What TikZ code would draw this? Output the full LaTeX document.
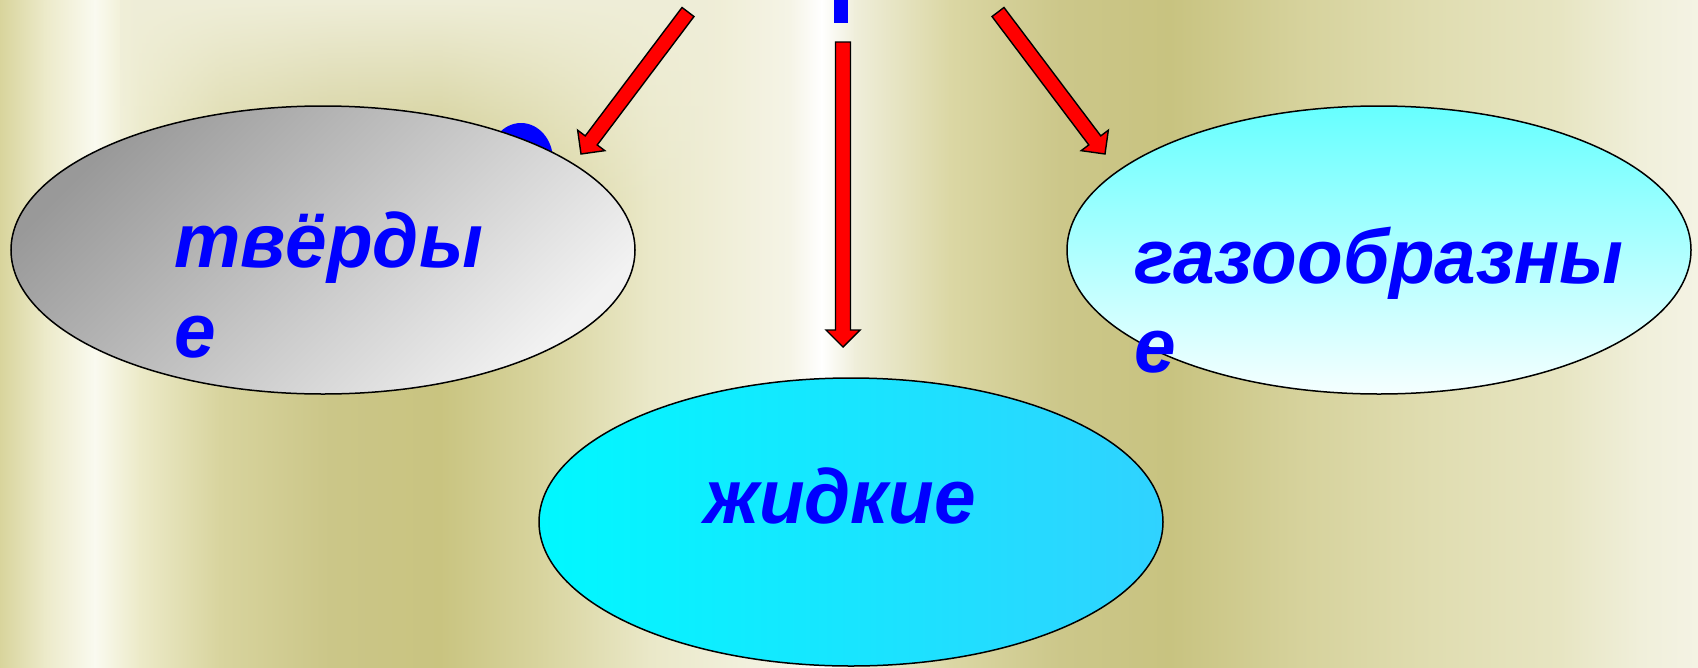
\documentclass[tikz,border=0pt]{standalone}
\usepackage{fontspec}
\newfontfamily\labi{Liberation Sans}[FakeStretch=0.97]
\usetikzlibrary{shapes.geometric,calc,fadings}
\definecolor{txtblue}{HTML}{0000FF}
\definecolor{eAdark}{HTML}{999999}
\definecolor{eAlight}{HTML}{F2F2F2}
\definecolor{eBtop}{HTML}{66FFFF}
\definecolor{eBbot}{HTML}{F6FFFF}
\definecolor{eCleft}{HTML}{00F8FF}
\definecolor{eCright}{HTML}{30D2FF}
\definecolor{creamtop}{HTML}{EFEED8}
\definecolor{b0}{HTML}{D8D49C}
\definecolor{b1}{HTML}{ECEAC9}
\definecolor{b2}{HTML}{FAFAF0}
\definecolor{b3}{HTML}{ECEAC8}
\definecolor{b4}{HTML}{D8D49E}
\definecolor{b5}{HTML}{CBC688}
\definecolor{b6}{HTML}{C9C480}
\definecolor{b7}{HTML}{D8D49E}
\definecolor{b8}{HTML}{EAE8C8}
\definecolor{b9}{HTML}{F5F4E6}
\definecolor{b10}{HTML}{FFFFFF}
\definecolor{b11}{HTML}{EFEEDA}
\definecolor{b12}{HTML}{DBD7A4}
\definecolor{b13}{HTML}{CCC78A}
\definecolor{b14}{HTML}{C8C380}
\definecolor{b15}{HTML}{D6D29C}
\definecolor{b16}{HTML}{DFDCAF}
\definecolor{b17}{HTML}{E7E5C2}
\definecolor{b18}{HTML}{F0EFDA}
\definecolor{b19}{HTML}{F4F3E4}
\tikzfading[name=topfade, top color=transparent!0, bottom color=transparent!100]
\tikzset{
  bubble/.style={ellipse, draw=black, line width=1.5pt, minimum width=624pt, minimum height=288pt, inner sep=0pt},
  lbl/.style={text=txtblue, font=\labi\bfseries\itshape\fontsize{77}{90}\selectfont, inner sep=0pt, anchor=base west},
  blockarr/.style={fill=red, draw=black, line width=1.4pt, line join=miter},
}
\newcommand\drawblockarrow[2]{%
  \coordinate (#1h) at ($(#2)!17pt!(#1)$);
  \draw[blockarr] ($(#1)!7.5pt!90:(#2)$) -- ($(#1h)!7.5pt!90:(#2)$) -- ($(#1h)!17pt!90:(#2)$) -- (#2)
     -- ($(#1h)!17pt!-90:(#2)$) -- ($(#1h)!7.5pt!-90:(#2)$) -- ($(#1)!7.5pt!-90:(#2)$) -- cycle;
}
\begin{document}
\begin{tikzpicture}[x=1pt,y=-1pt]
\useasboundingbox (0,0) rectangle (1698,667);
% background bands
\foreach \xa/\xb/\ca/\cb in {0/45/b0/b1, 45/95/b1/b2, 95/140/b2/b3, 140/220/b3/b4, 220/330/b4/b5, 330/440/b5/b6, 440/540/b6/b7, 540/650/b7/b8, 650/790/b8/b9, 790/822/b9/b10, 822/855/b10/b11, 855/950/b11/b12, 950/1060/b12/b13, 1060/1170/b13/b14, 1170/1300/b14/b15, 1300/1420/b15/b16, 1420/1560/b16/b17, 1560/1640/b17/b18, 1640/1698/b18/b19}
  {\shade[left color=\ca, right color=\cb] (\xa-0.5,0) rectangle (\xb+0.5,667);}
\fill[creamtop, path fading=topfade] (120,0) rectangle (720,210);
% blue letter fragments behind
\fill[txtblue] (521,160) ellipse [x radius=32pt, y radius=37pt];
\fill[txtblue] (833.5,0) rectangle (847.5,23);
% ellipses
\node[bubble, top color=eAdark, bottom color=eAlight, shading angle=45] (e1) at (323,250) {};
\node[bubble, top color=eBtop, bottom color=eBbot] (e2) at (1379,250) {};
\node[bubble, left color=eCleft, right color=eCright] (e3) at (851,522) {};
% labels
\node[lbl] (t1a) at (174,267) {твёрды};
\node[lbl] (t1b) at (174,357) {е};
\node[lbl] (t2a) at (1134,283) {газообразны};
\node[lbl] (t2b) at (1134,372) {е};
\node[lbl] (t3) at (704,523) {жидкие};
% arrows
\coordinate (a1s) at (688,12);  \coordinate (a1e) at (581,154);
\coordinate (a2s) at (843,42);  \coordinate (a2e) at (843,347);
\coordinate (a3s) at (998,12);  \coordinate (a3e) at (1105,154);
\drawblockarrow{a1s}{a1e}
\drawblockarrow{a2s}{a2e}
\drawblockarrow{a3s}{a3e}
\end{tikzpicture}
\end{document}
